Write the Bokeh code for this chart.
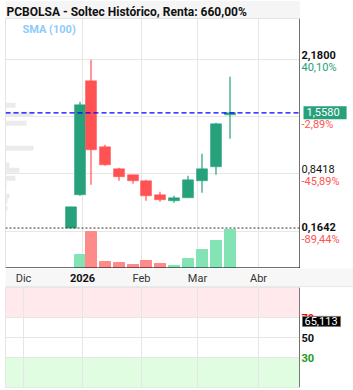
from bokeh.plotting import figure
from bokeh.models import (Range1d, FixedTicker, Label, BoxAnnotation, Span, Grid,
                          ColumnDataSource, Spacer)
from bokeh.layouts import column, row
from bokeh.core.properties import value
from bokeh.embed import file_html
from bokeh.resources import INLINE

# ---------------- data ----------------
title_text = "PCBOLSA - Soltec Histórico, Renta: 660,00%"
sma_label = "SMA (100)"

# weekly candles, x = days since 2025-12-01
week_x = [23.75, 28.25, 33.75, 40.75, 47.75, 54.75, 61.25, 68.25, 75.25, 82.25, 89.25, 96.25, 103.25]
opens = [0.205, 0.595, 1.933, 1.159, 0.900, 0.830, 0.760, 0.595, 0.525, 0.560, 0.760, 0.924, 1.534]
highs = [0.454, 1.687, 2.180, 1.182, 0.912, 0.830, 0.771, 0.630, 0.583, 0.818, 1.077, 1.440, 1.980]
lows = [0.205, 0.583, 0.713, 0.936, 0.760, 0.724, 0.525, 0.513, 0.501, 0.560, 0.619, 0.830, 1.253]
closes = [0.454, 1.652, 1.123, 0.947, 0.807, 0.760, 0.583, 0.537, 0.560, 0.771, 0.900, 1.429, 1.558]
volumes = [0, 140, 370, 70, 60, 40, 80, 50, 30, 100, 190, 280, 390]

month_ticks = [0, 29.5, 59, 87, 117.5]
month_labels = ["Dic", "2026", "Feb", "Mar", "Abr"]
month_bold = [False, True, False, False, False]

price_ticks = [2.18, 1.5109, 0.8418, 0.1642]
price_labels = ["2,1800", "1,5109", "0,8418", "0,1642"]
price_bold = [True, False, False, True]
pct_labels = ["40,10%", "-2,89%", "-45,89%", "-89,44%"]
pct_positive = [True, False, False, False]

last_price = 1.558
last_price_label = "1,5580"
base_price = 0.205

# volume profile (price level, relative size)
vp_price = [1.646, 1.540, 1.435, 1.141, 0.942, 0.883, 0.789, 0.724, 0.578, 0.525, 0.437]
vp_size = [10, 28, 21, 28, 4, 14, 10, 1, 4, 2, 2]

rsi_levels = [70, 50, 30]
rsi_level_labels = ["70", "50", "30"]
rsi_last = 65.113
rsi_last_label = "65,113"

# ---------------- style ----------------
GREEN = "#26a17b"
RED = "#ff5252"
VGREEN = "#84e3b5"
VRED = "#ff8a8a"
GRID = "#e6e6e6"
FONT = "Roboto"

inc = [c >= o for o, c in zip(opens, closes)]
src = ColumnDataSource(dict(
    x=week_x,
    top=[max(o, c) for o, c in zip(opens, closes)],
    bottom=[min(o, c) for o, c in zip(opens, closes)],
    high=highs, low=lows, vol=volumes,
    color=[GREEN if i else RED for i in inc],
    vcolor=[VGREEN if i else VRED for i in inc],
))

# ---------------- main price panel ----------------
p = figure(width=295, height=268, x_range=Range1d(-9, 138.5), y_range=Range1d(-0.270, 2.665),
           output_backend="svg", toolbar_location=None, x_axis_type=None, y_axis_type=None,
           min_border_left=0, min_border_right=0, min_border_top=18, min_border_bottom=0)
p.outline_line_color = "#e3e3e3"
p.background_fill_color = "white"
p.border_fill_color = "#f5f5f5"

p.title.text = title_text
p.title.text_font = "Roboto"
p.title.text_font_size = "12px"
p.title.text_font_style = "bold"
p.title.text_color = "#111111"
p.title.standoff = 0
p.title.offset = 1

p.add_layout(Grid(dimension=0, ticker=FixedTicker(ticks=month_ticks[1:]), grid_line_color=GRID))
p.add_layout(Grid(dimension=1, ticker=FixedTicker(ticks=price_ticks), grid_line_color=GRID))

# volume profile
p.extra_x_ranges = {"vp": Range1d(0, 295)}
p.hbar(y=vp_price, left=0, right=vp_size, height=0.06, x_range_name="vp",
       fill_color="#ebebeb", line_color=None)

# volume
p.extra_y_ranges = {"vol": Range1d(0, 2500)}
p.vbar(x="x", width=5.5, top="vol", bottom=0, source=src, y_range_name="vol",
       fill_color="vcolor", line_color="vcolor")

# candles
p.segment(x0="x", x1="x", y0="low", y1="high", source=src, line_color="color", line_width=1.2)
p.vbar(x="x", width=5.5, top="top", bottom="bottom", source=src,
       fill_color="color", line_color="color", line_width=0.5)

p.add_layout(Span(location=last_price, dimension="width", line_color="blue",
                  line_dash="5 3", line_width=1.3))
p.add_layout(Span(location=base_price, dimension="width", line_color="#333333",
                  line_dash="2 2", line_width=1))
# black frame edges (right / bottom)
p.add_layout(Span(location=p.x_range.end, dimension="height", line_color="black", line_width=2))
p.add_layout(Span(location=p.y_range.start, dimension="width", line_color="black", line_width=2))

p.add_layout(Label(x=p.x_range.start, y=p.y_range.end, x_offset=17, y_offset=-11, text=sma_label,
                   text_font=FONT, text_font_size="11px", text_font_style="bold",
                   text_color="#90caf9", text_baseline="middle", text_align="left"))

# ---------------- right price scale ----------------
pr = figure(width=53, height=268, x_range=Range1d(0, 53), y_range=p.y_range,
            output_backend="svg", toolbar_location=None, x_axis_type=None, y_axis_type=None,
            min_border_left=0, min_border_right=0, min_border_top=18, min_border_bottom=0)
pr.outline_line_color = None

for t, lab, b, pct, pos in zip(price_ticks, price_labels, price_bold, pct_labels, pct_positive):
    if lab != "1,5109":
        pr.add_layout(Label(x=1, y=t, y_offset=1, text=lab,
                            text_font=FONT, text_font_size="11px",
                            text_font_style="bold" if b else "normal",
                            text_color="#111111", text_baseline="bottom", text_align="left"))
    pr.add_layout(Label(x=1, y=t, y_offset=-1, text=pct,
                        text_font=FONT, text_font_size="11px",
                        text_color=GREEN if pos else RED, text_baseline="top", text_align="left"))

pr.add_layout(Label(x=3, y=last_price, text=last_price_label,
                    text_font=FONT, text_font_size="11px", text_color="white",
                    text_baseline="middle", text_align="left",
                    background_fill_color=GREEN, background_fill_alpha=1.0,
                    border_line_color=None,
                    padding=dict(left=3, right=7, top=2, bottom=3)))

# ---------------- date strip ----------------
pa = figure(width=348, height=19, x_range=Range1d(-9, 165), y_range=Range1d(0, 1),
            output_backend="svg", toolbar_location=None, x_axis_type=None, y_axis_type=None,
            min_border=0)
pa.outline_line_color = None
pa.background_fill_color = "#f7f7f7"
pa.border_fill_color = "#f7f7f7"
pa.text(x=month_ticks, y=[0.5] * len(month_ticks), text=month_labels,
        text_font=value(FONT), text_font_size="11px",
        text_font_style=["bold" if b else "normal" for b in month_bold],
        text_color=["#111111" if b else "#333333" for b in month_bold],
        text_align="center", text_baseline="middle")
pa.add_layout(Span(location=0, dimension="width", line_color="#dddddd", line_width=2))

# ---------------- RSI panel ----------------
p2 = figure(width=295, height=103, x_range=p.x_range, y_range=Range1d(0, 100),
            output_backend="svg", toolbar_location=None, x_axis_type=None, y_axis_type=None,
            min_border_left=0, min_border_right=0, min_border_top=0, min_border_bottom=3)
p2.outline_line_color = "#e3e3e3"
p2.add_layout(BoxAnnotation(bottom=70, top=100, fill_color="#ffe9ec", fill_alpha=1, line_color=None,
                            level="underlay"))
p2.add_layout(BoxAnnotation(bottom=0, top=30, fill_color="#e1fde1", fill_alpha=1, line_color=None,
                            level="underlay"))
p2.add_layout(Grid(dimension=0, ticker=FixedTicker(ticks=month_ticks), grid_line_color=GRID))
p2.add_layout(Grid(dimension=1, ticker=FixedTicker(ticks=rsi_levels), grid_line_color=GRID))
p2.add_layout(Span(location=p.x_range.end, dimension="height", line_color="black", line_width=2))

p2r = figure(width=53, height=103, x_range=Range1d(0, 53), y_range=p2.y_range,
             output_backend="svg", toolbar_location=None, x_axis_type=None, y_axis_type=None,
             min_border_left=0, min_border_right=0, min_border_top=0, min_border_bottom=3)
p2r.outline_line_color = None
for lv, lab, col in zip(rsi_levels, rsi_level_labels, ["#ff0000", "#111111", "#1a9a1a"]):
    p2r.add_layout(Label(x=1, y=lv, text=lab, text_font=FONT,
                         text_font_size="11px", text_font_style="bold", text_color=col,
                         text_baseline="middle", text_align="left"))
p2r.add_layout(Label(x=2, y=rsi_last, y_offset=1, text=rsi_last_label,
                     text_font=FONT, text_font_size="11px", text_color="white",
                     text_baseline="middle", text_align="left",
                     background_fill_color="black", border_line_color="#777777",
                     padding=dict(left=2, right=3, top=1, bottom=1)))

layout = column(
    row(Spacer(width=5, height=268), p, pr, spacing=0),
    row(Spacer(width=5, height=19), pa, spacing=0),
    row(Spacer(width=5, height=103), p2, p2r, spacing=0),
    spacing=0,
)
open("out.html", "w").write(file_html(layout, INLINE))
